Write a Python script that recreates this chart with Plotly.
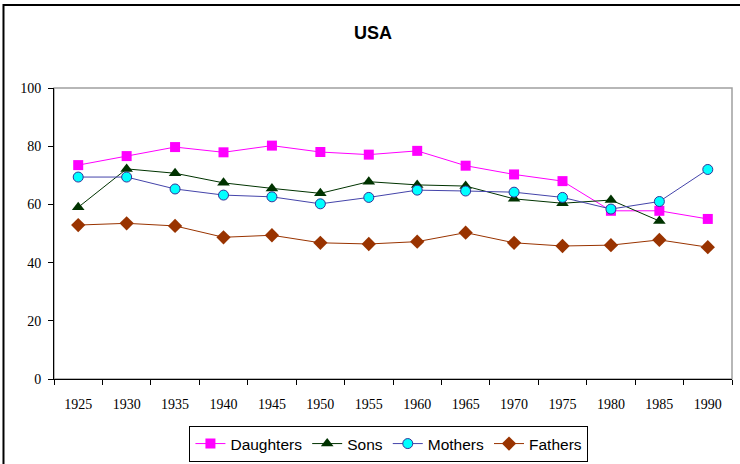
import plotly.graph_objects as go

years = ["1925", "1930", "1935", "1940", "1945", "1950", "1955",
         "1960", "1965", "1970", "1975", "1980", "1985", "1990"]
daughters = [73.5, 76.6, 79.7, 77.9, 80.2, 78.0, 77.1, 78.4, 73.3, 70.3, 68.0, 57.8, 57.8, 55.0]
sons = [59.0, 72.2, 70.7, 67.4, 65.5, 63.8, 67.8, 66.7, 66.3, 61.9, 60.4, 61.5, 54.3, None]
mothers = [69.4, 69.4, 65.3, 63.2, 62.6, 60.2, 62.4, 64.9, 64.6, 64.2, 62.4, 58.4, 61.0, 72.0]
fathers = [52.9, 53.5, 52.6, 48.7, 49.4, 46.8, 46.4, 47.2, 50.3, 46.8, 45.7, 46.0, 47.8, 45.3]

fig = go.Figure()
fig.add_trace(go.Scatter(x=years, y=daughters, name="Daughters", mode="lines+markers",
                         line=dict(color="#FF00FF", width=1),
                         marker=dict(symbol="square", size=10, color="#FF00FF")))
fig.add_trace(go.Scatter(x=years, y=sons, name="Sons", mode="lines+markers",
                         line=dict(color="#003300", width=1),
                         marker=dict(symbol="triangle-up", size=11, color="#003300")))
fig.add_trace(go.Scatter(x=years, y=mothers, name="Mothers", mode="lines+markers",
                         line=dict(color="#4444AA", width=1),
                         marker=dict(symbol="circle", size=10, color="#00FFFF",
                                     line=dict(color="#333399", width=1))))
fig.add_trace(go.Scatter(x=years, y=fathers, name="Fathers", mode="lines+markers",
                         line=dict(color="#993300", width=1),
                         marker=dict(symbol="diamond", size=11, color="#993300")))

# plot area border (grey) and outer chart frame (black)
fig.add_shape(type="rect", xref="paper", yref="paper", x0=0, x1=1, y0=0, y1=1,
              line=dict(color="#A0A0A0", width=1.5), layer="below")
fig.add_shape(type="rect", xref="paper", yref="paper", x0=-0.0745, x1=1.05, y0=-0.5, y1=1.285,
              line=dict(color="black", width=2), layer="below")

fig.update_layout(
    width=740, height=464,
    margin=dict(l=54, r=8, t=88, b=85, autoexpand=False),
    paper_bgcolor="white", plot_bgcolor="white",
    title=dict(text="<b>USA</b>", x=0.504, xanchor="center", y=0.929, yanchor="middle",
               font=dict(family="Liberation Sans, Arial", size=18, color="black")),
    showlegend=True,
    legend=dict(orientation="h", x=0.494, xanchor="center",
                yref="container", y=2 / 464, yanchor="bottom",
                bordercolor="black", borderwidth=1, bgcolor="white",
                font=dict(family="Liberation Sans, Arial", size=15.5, color="black"),
                tracegroupgap=0, itemwidth=30),
    xaxis=dict(type="category", range=[-0.5, 13.5], tickson="boundaries",
               ticks="outside", ticklen=5, tickcolor="black", ticklabelstandoff=12,
               showline=True, linecolor="black", linewidth=1, showgrid=False,
               tickfont=dict(family="Liberation Serif, Times New Roman", size=14, color="black")),
    yaxis=dict(range=[0, 100], dtick=20, ticks="outside", ticklen=5, tickcolor="black",
               ticklabelstandoff=4,
               showline=True, linecolor="black", linewidth=1, showgrid=False, zeroline=False,
               tickfont=dict(family="Liberation Serif, Times New Roman", size=14, color="black")),
)

fig.write_html("out.html", config={"displayModeBar": False},
               post_script="document.body.style.margin='0';")
